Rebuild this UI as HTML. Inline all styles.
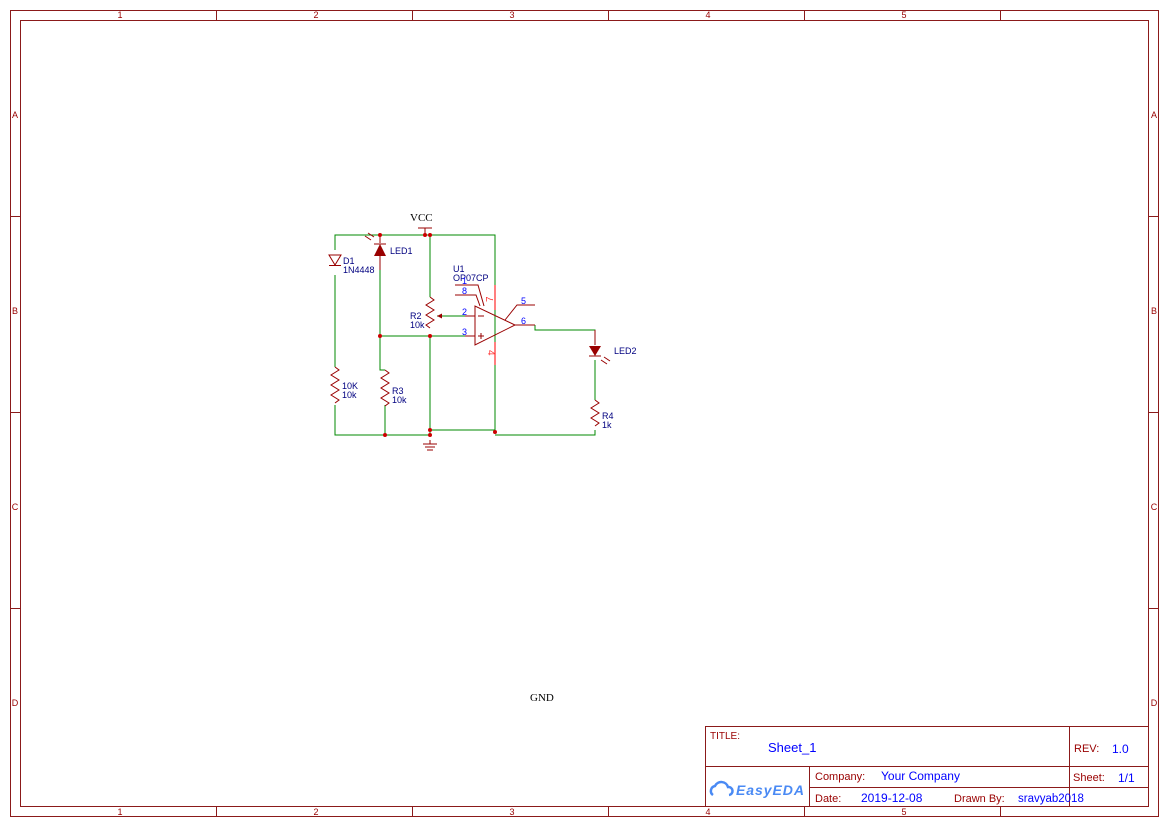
<!DOCTYPE html>
<html><head><meta charset="utf-8"><style>body{margin:0;background:#fff}svg{display:block}</style></head><body>
<svg width="1169" height="827" viewBox="0 0 1169 827" xmlns="http://www.w3.org/2000/svg" font-family="Liberation Sans, DejaVu Sans, sans-serif">
<g fill="none" stroke="#8b1a1a" stroke-width="1">
<rect x="10.5" y="10.5" width="1148" height="806"/>
<rect x="20.5" y="20.5" width="1128" height="786"/>
<path d="M216.5 10v10M412.5 10v10M608.5 10v10M804.5 10v10M1000.5 10v10M216.5 807v10M412.5 807v10M608.5 807v10M804.5 807v10M1000.5 807v10M10 216.5h10M10 412.5h10M10 608.5h10M1149 216.5h10M1149 412.5h10M1149 608.5h10"/>
</g>
<g fill="#990000" font-size="9" text-anchor="middle">
<text x="120" y="18">1</text><text x="316" y="18">2</text><text x="512" y="18">3</text><text x="708" y="18">4</text><text x="904" y="18">5</text>
<text x="120" y="815">1</text><text x="316" y="815">2</text><text x="512" y="815">3</text><text x="708" y="815">4</text><text x="904" y="815">5</text>
<text x="15" y="118">A</text><text x="15" y="314">B</text><text x="15" y="510">C</text><text x="15" y="706">D</text>
<text x="1154" y="118">A</text><text x="1154" y="314">B</text><text x="1154" y="510">C</text><text x="1154" y="706">D</text>
</g>
<!-- title block -->
<g fill="none" stroke="#8b1a1a" stroke-width="1">
<rect x="705.5" y="726.5" width="443" height="80"/>
<path d="M705 766.5h444M1069.5 726v80M809.5 766v40M809 787.5h340"/>
</g>
<g font-size="11">
<text x="710" y="739" fill="#990000" font-size="10">TITLE:</text>
<text x="768" y="752" fill="#0000ff" font-size="13">Sheet_1</text>
<text x="1074" y="752" fill="#990000">REV:</text><text x="1112" y="753" fill="#0000ff" font-size="12">1.0</text>
<text x="815" y="780" fill="#990000">Company:</text><text x="881" y="780" fill="#0000ff" font-size="12">Your Company</text>
<text x="1073" y="781" fill="#990000">Sheet:</text><text x="1118" y="782" fill="#0000ff" font-size="12">1/1</text>
<text x="815" y="802" fill="#990000">Date:</text><text x="861" y="802" fill="#0000ff" font-size="12">2019-12-08</text>
<text x="954" y="802" fill="#990000">Drawn By:</text><text x="1018" y="802" fill="#0000ff" font-size="11.5">sravyab2018</text>
<text x="736" y="795" fill="#4a8af4" font-size="14" font-weight="bold" font-style="italic" textLength="68">EasyEDA</text>
</g>
<path d="M713 795a5 5 0 0 1 2-9a7 7 0 0 1 13 1a4 4 0 0 1 1 8" fill="none" stroke="#4a8af4" stroke-width="2.5"/>
<text x="530" y="701" font-family="Liberation Serif, serif" font-size="11">GND</text>
<text x="410" y="221" font-family="Liberation Serif, serif" font-size="11">VCC</text>
<!-- wires -->
<g fill="none" stroke="#008800" stroke-width="1">
<path d="M335 250V235H495V430M335 275V367M335 405V435H430M380 270V336H475M380 336V370H385M385 405V435M430 235V297M430 336V435M430 430H495M495 435H595V430M535 325V330H595V345M595 360V400M437 316H475"/>
</g>
<!-- components -->
<g fill="none" stroke="#990000" stroke-width="1">
<path d="M425 228V235M418 228H432"/>
<path d="M430 440V444M423 444h14M425 447h10M427 450h6"/>
<path d="M329 255h12l-6 10z M329 265.5h12"/>
<path d="M335 367l4 3-8 5 8 5-8 5 8 5-8 5 8 5-4 3"/>
<path d="M385 370l4 3-8 5 8 5-8 5 8 5-8 5 8 5-4 3"/>
<path d="M595 400l4 3-8 5 8 5-8 5 8 5-4 3"/>
<path d="M430 297l4 3-8 5 8 5-8 5 8 5-8 5 4 3"/>
<path d="M380 235V243M380 256V270M374 244h12"/>
<path d="M371 240l-6-4M374 237l-6-4"/>
<path d="M595 330V345M589 356h12M601 360l6 4M604 357l6 4"/>
<path d="M475 306V345L515 325Z"/>
<path d="M515 325H535M505 320L517 305H535M455 285H478L484 306M455 295H476L480 306M465 316H475M465 336H475"/>
<path d="M478 316h6M478 336h6M481 333v6"/>
</g>
<path d="M374 256h12l-6-12z" fill="#990000"/>
<path d="M589 346h12l-6 10z" fill="#990000"/>
<path d="M437 316l5-2.5v5z" fill="#990000"/>
<g stroke="#ff5555" stroke-width="1.5"><path d="M495 285V310M495 342V365"/></g>
<g fill="#cc0000">
<circle cx="380" cy="235" r="2"/><circle cx="425" cy="235" r="2"/><circle cx="430" cy="235" r="2"/>
<circle cx="380" cy="336" r="2"/><circle cx="430" cy="336" r="2"/><circle cx="385" cy="435" r="2"/>
<circle cx="430" cy="430" r="2"/><circle cx="430" cy="435" r="2"/><circle cx="495" cy="432" r="2"/>
</g>
<g fill="#000080" font-size="9">
<text x="343" y="264">D1</text><text x="343" y="273">1N4448</text>
<text x="390" y="254">LED1</text><text x="342" y="389">10K</text><text x="342" y="398">10k</text>
<text x="392" y="394">R3</text><text x="392" y="403">10k</text>
<text x="410" y="319">R2</text><text x="410" y="328">10k</text>
<text x="453" y="272">U1</text><text x="453" y="281">OP07CP</text>
<text x="614" y="354">LED2</text><text x="602" y="419">R4</text><text x="602" y="428">1k</text>
</g>
<g fill="#0000ff" font-size="9">
<text x="462" y="284">1</text><text x="462" y="294">8</text><text x="462" y="315">2</text><text x="462" y="335">3</text>
<text x="521" y="304">5</text><text x="521" y="324">6</text>
</g>
<g fill="#ff3333" font-size="10"><text x="493" y="302" transform="rotate(-90 493 302)">7</text><text x="488" y="350" transform="rotate(90 488 350)">4</text></g>
</svg>
</body></html>
